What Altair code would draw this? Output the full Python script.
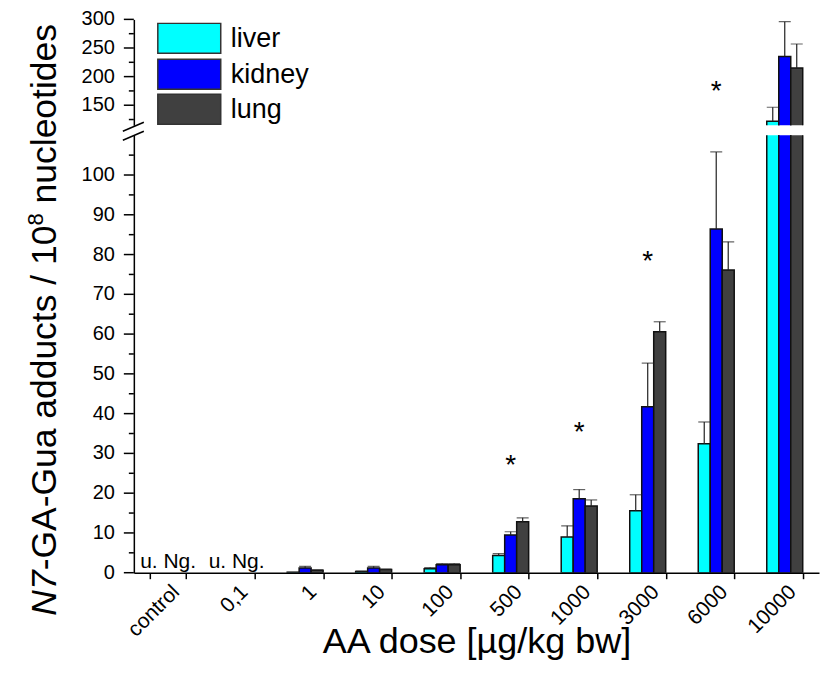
import altair as alt
import pandas as pd

doses = ["control", "0,1", "1", "10", "100", "500", "1000", "3000", "6000", "10000"]
organs = ["liver", "kidney", "lung"]
colors = ["#00FFFF", "#0000FF", "#404040"]

liver = [None, None, 0.1, 0.3, 1.0, 4.3, 9.0, 15.6, 32.4, 122]
liver_err = [None, None, 0.0, 0.1, 0.3, 0.5, 2.8, 4.0, 5.5, 24.5]
kidney = [None, None, 1.2, 1.2, 2.0, 9.5, 18.6, 41.7, 86.4, 235]
kidney_err = [None, None, 0.4, 0.4, 0.3, 0.8, 2.3, 11.0, 19.4, 61]
lung = [None, None, 0.6, 0.8, 2.0, 12.8, 16.8, 60.6, 76.1, 215]
lung_err = [None, None, 0.1, 0.1, 0.3, 1.0, 1.5, 2.5, 7.1, 42]

nd_doses = ["control", "0,1"]
nd_label = "u. Ng."
star_doses = ["500", "1000", "3000", "6000"]
star_values = [28.6, 37, 80, 185]

upper_major = [150, 200, 250, 300]
upper_minor = [125, 175, 225, 275]
lower_major = list(range(0, 101, 10))
lower_minor = list(range(5, 110, 10))

rows = []
for organ, vals, errs in [("liver", liver, liver_err), ("kidney", kidney, kidney_err), ("lung", lung, lung_err)]:
    for d, v, e in zip(doses, vals, errs):
        if v is None:
            continue
        rows.append({"dose": d, "organ": organ, "value": v, "top": v + e})
df = pd.DataFrame(rows)
nd_df = pd.DataFrame({"dose": nd_doses, "label": [nd_label] * len(nd_doses), "value": [0] * len(nd_doses)})
star_df = pd.DataFrame({"dose": star_doses, "value": star_values, "label": ["*"] * len(star_doses)})

FONT = "Liberation Sans"
W = 686
H_UP = 106
H_LO = 438

x_scale = alt.Scale(domain=doses, paddingInner=0.475, paddingOuter=0.2375)
xo = alt.XOffset("organ:N", sort=organs, scale=alt.Scale(domain=organs, paddingInner=0, paddingOuter=0))
color = alt.Color("organ:N", scale=alt.Scale(domain=organs, range=colors), legend=None)


def make_panel(domain, major, minor, show_x, star_filter):
    if show_x:
        x_axis = alt.Axis(title="AA dose [µg/kg bw]", labelAngle=-45, labelAlign="right", labelBaseline="top",
                          labelFontSize=21, labelPadding=2, tickSize=6, tickBand="extent",
                          titleFontSize=36, titleFontWeight="normal", titleBaseline="alphabetic",
                          titleY=80, labelFont=FONT, titleFont=FONT, labelOverlap=False)
    else:
        x_axis = None
    x = alt.X("dose:N", sort=doses, scale=x_scale, axis=x_axis)
    y_axis = alt.Axis(title=None, ticks=False, labels=False, domain=True)
    yscale = alt.Scale(domain=domain, nice=False, zero=False)
    bars = alt.Chart(df).mark_bar(clip=True, stroke="#111111", strokeWidth=1.5).encode(
        x=x, xOffset=xo, color=color,
        y=alt.Y("value:Q", scale=yscale, axis=y_axis), y2=alt.datum(0))
    err = alt.Chart(df).mark_rule(clip=True, color="#222222", strokeWidth=1.2).encode(
        x=x, xOffset=xo, y="value:Q", y2="top:Q")
    caps = alt.Chart(df).mark_tick(clip=True, color="#222222", thickness=1.2, size=12).encode(
        x=x, xOffset=xo, y="top:Q")
    stars = alt.Chart(star_df).transform_filter(star_filter).mark_text(
        fontSize=28, font=FONT, dy=15, baseline="alphabetic").encode(
        x=x, y="value:Q", text="label:N")
    mt = alt.Chart(pd.DataFrame({"v": minor})).mark_rule(color="black", strokeWidth=1.5).encode(
        x=alt.value(-5), x2=alt.value(0), y="v:Q")
    maj_df = pd.DataFrame({"v": major, "lab": [str(v) for v in major]})
    jt = alt.Chart(maj_df).mark_rule(color="black", strokeWidth=1.5).encode(
        x=alt.value(-10), x2=alt.value(0), y="v:Q")
    jl = alt.Chart(maj_df).mark_text(fontSize=20, font=FONT, align="right", baseline="middle").encode(
        x=alt.value(-19), y="v:Q", text="lab:N")
    return [bars, err, caps, stars, mt, jt, jl], x


up_layers, _ = make_panel([115, 300], upper_major, upper_minor, False, "datum.value >= 115")
lo_layers, x_lo = make_panel([0, 110], lower_major, lower_minor, True, "datum.value <= 110")

# legend (upper panel)
leg = []
leg_y = [4, 40, 75]
for organ, c, y0 in zip(organs, colors, leg_y):
    leg.append(alt.Chart(alt.Data(values=[{"t": organ}])).mark_rect(fill=c, stroke="#333333", strokeWidth=1.5).encode(
        x=alt.value(24), x2=alt.value(87), y=alt.value(y0), y2=alt.value(y0 + 30)))
    leg.append(alt.Chart(alt.Data(values=[{"t": organ}])).mark_text(
        fontSize=27, font=FONT, align="left", baseline="middle").encode(
        x=alt.value(97), y=alt.value(y0 + 16), text="t:N"))

upper = alt.layer(*up_layers, *leg).properties(width=W, height=H_UP)

# not-detected labels
nd = alt.Chart(nd_df).mark_text(fontSize=21, font=FONT, baseline="alphabetic", dy=-5).encode(
    x=x_lo, y="value:Q", text="label:N")

# axis break marks
brk = []
for ya, yb in [(-4, -13), (5, -4)]:
    brk.append(alt.Chart(alt.Data(values=[{}])).mark_rule(color="black", strokeWidth=1.5).encode(
        x=alt.value(-11), x2=alt.value(10), y=alt.value(ya), y2=alt.value(yb)))

# y title pieces (rotated)
FS = 35.5
base_x = -78
y0 = 481
pieces = [
    ("N7", FS, "italic", 1.278 * FS, 0),
    ("-GA-Gua adducts / 10", FS, "normal", 9.727 * FS, 0),
    ("8", 22, "normal", 0.556 * 22 + 0.278 * FS, -13),
    ("nucleotides", FS, "normal", 5.058 * FS, 0),
]
ytitle = []
pos = y0
for txt, fs, style, wdt, shift in pieces:
    ytitle.append(alt.Chart(alt.Data(values=[{"t": txt}])).mark_text(
        fontSize=fs, font=FONT, fontStyle=style, angle=270, align="left", baseline="alphabetic").encode(
        x=alt.value(base_x + shift), y=alt.value(pos), text="t:N"))
    pos -= wdt

lower = alt.layer(*lo_layers, nd, *brk, *ytitle).properties(width=W, height=H_LO)

chart = alt.vconcat(upper, lower, spacing=10, bounds="flush").properties(
    padding={"left": 24, "top": 8, "right": 5, "bottom": 5}
).configure_view(stroke="transparent").configure_axis(
    grid=False, domainColor="black", domainWidth=1.5, tickColor="black", tickWidth=1.5,
    labelColor="black", titleColor="black"
)

chart.save("out.html", embed_options={"renderer": "svg", "actions": False})
